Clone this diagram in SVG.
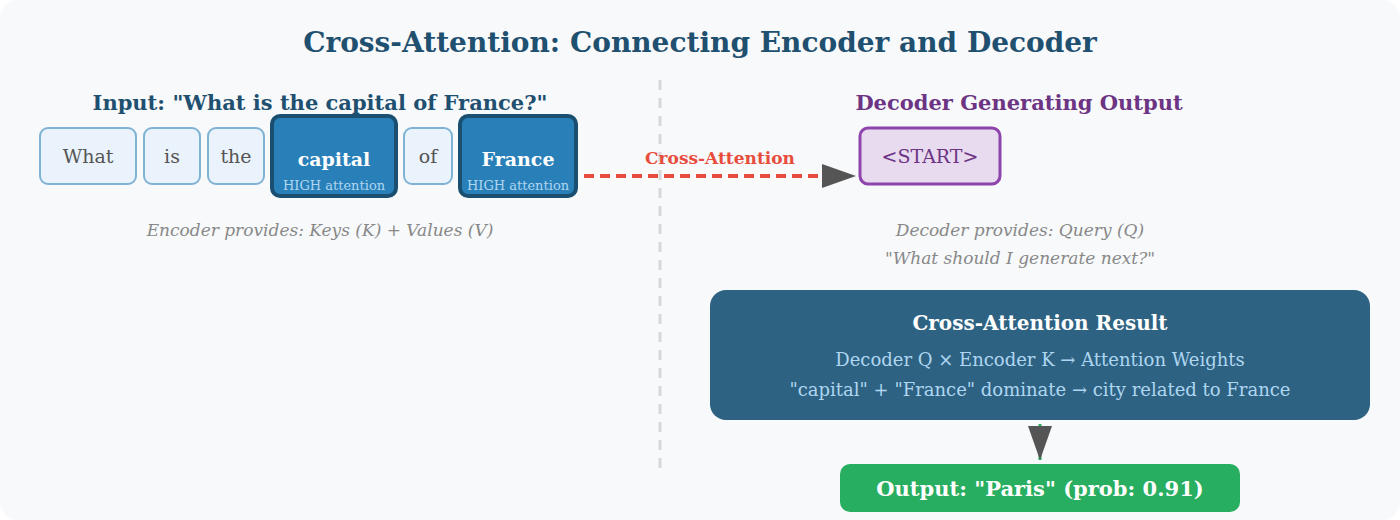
<svg xmlns="http://www.w3.org/2000/svg" width="1400" height="520" viewBox="0 0 1400 520">
<style>
text{font-family:"DejaVu Serif",serif;text-anchor:middle}
.tok{fill:#eaf2fb;stroke:#7fb3d5;stroke-width:2}
.hi{fill:#2980b9;stroke:#1b4f72;stroke-width:4}
.tt{font-size:19px;fill:#555}
.ht{font-size:19px;fill:#fff;font-weight:bold}
.hs{font-size:13px;fill:#aed6f1}
.it{font-style:italic;font-size:17px;fill:#888}
</style>
<defs>
<marker id="ah" markerWidth="10" markerHeight="10" refX="9" refY="5" orient="auto" markerUnits="userSpaceOnUse" viewBox="0 0 10 10"><path d="M0,0L10,5L0,10z" fill="#555"/></marker>
<marker id="ah2" viewBox="0 0 10 10" refX="10" refY="5" markerWidth="34" markerHeight="24" orient="auto" markerUnits="userSpaceOnUse" preserveAspectRatio="none"><path d="M0,0L10,5L0,10z" fill="#555"/></marker>
</defs>
<rect x="0" y="0" width="1400" height="520" rx="18" fill="#f7f9fb"/>
<text x="700" y="52" font-size="28" font-weight="bold" fill="#1f5070">Cross-Attention: Connecting Encoder and Decoder</text>
<line x1="660" y1="80" x2="660" y2="472" stroke="#d8d8d8" stroke-width="3" stroke-dasharray="10,8"/>
<text x="320" y="110" font-size="21" font-weight="bold" fill="#1f5070">Input: "What is the capital of France?"</text>
<text x="1019" y="110" font-size="21" font-weight="bold" fill="#6c3483">Decoder Generating Output</text>
<g id="tok-what"><rect class="tok" x="40" y="128" width="96" height="56" rx="8"/><text class="tt" x="88" y="163">What</text></g>
<g id="tok-is"><rect class="tok" x="144" y="128" width="56" height="56" rx="8"/><text class="tt" x="172" y="163">is</text></g>
<g id="tok-the"><rect class="tok" x="208" y="128" width="56" height="56" rx="8"/><text class="tt" x="236" y="163">the</text></g>
<g id="tok-capital"><rect class="hi" x="272" y="116" width="124" height="80" rx="8"/><text class="ht" x="334" y="166">capital</text><text class="hs" x="334" y="190">HIGH attention</text></g>
<g id="tok-of"><rect class="tok" x="404" y="128" width="48" height="56" rx="8"/><text class="tt" x="428" y="163">of</text></g>
<g id="tok-france"><rect class="hi" x="460" y="116" width="116" height="80" rx="8"/><text class="ht" x="518" y="166">France</text><text class="hs" x="518" y="190">HIGH attention</text></g>
<text class="it" x="320" y="236">Encoder provides: Keys (K) + Values (V)</text>
<g id="start"><rect x="860" y="128" width="140" height="56" rx="8" fill="#e8daef" stroke="#8e44ad" stroke-width="3"/><text x="930" y="163" font-size="19" fill="#6c3483">&lt;START&gt;</text></g>
<text class="it" x="1020" y="236">Decoder provides: Query (Q)</text>
<text class="it" x="1020" y="264">"What should I generate next?"</text>
<g id="result"><rect x="710" y="290" width="660" height="130" rx="16" fill="#2e6282"/>
<text x="1040" y="330" font-size="20" font-weight="bold" fill="#fff">Cross-Attention Result</text>
<text x="1040" y="366" font-size="18" fill="#aed6f1">Decoder Q × Encoder K → Attention Weights</text>
<text x="1040" y="396" font-size="18" fill="#aed6f1">"capital" + "France" dominate → city related to France</text></g>
<g id="output"><rect x="840" y="464" width="400" height="48" rx="10" fill="#27ae60"/><text x="1040" y="496" font-size="21" font-weight="bold" fill="#fff">Output: "Paris" (prob: 0.91)</text></g>
<g id="connectors">
<line x1="584" y1="176" x2="856" y2="176" stroke="#e74c3c" stroke-width="4" stroke-dasharray="10,6" marker-end="url(#ah2)"/>
<text x="720" y="164" font-size="17" font-weight="bold" fill="#e74c3c">Cross-Attention</text>
<line x1="1040" y1="424" x2="1040" y2="460" stroke="#27ae60" stroke-width="3" marker-end="url(#ah2)"/>
</g>
</svg>
